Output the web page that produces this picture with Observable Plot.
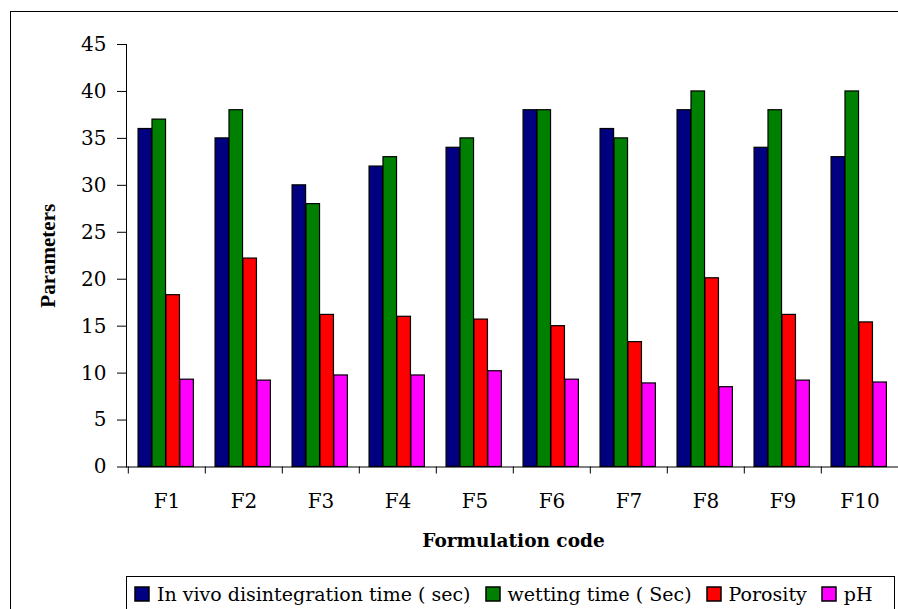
<!DOCTYPE html>
<html>
<head>
<meta charset="utf-8">
<script src="https://cdn.jsdelivr.net/npm/d3@7"></script>
<script src="https://cdn.jsdelivr.net/npm/@observablehq/plot@0.6"></script>
<style>
  html, body { margin: 0; padding: 0; background: #fff; }
  #page { position: relative; width: 898px; height: 609px; overflow: hidden; background: #fff; }
  #outer { position: absolute; left: 10px; top: 11px; width: 1000px; height: 1000px; border: 1.5px solid #000; pointer-events: none; }
  #chart { position: absolute; left: 0; top: 0; }
  #legendbox { position: absolute; left: 126px; top: 576px; width: 769px; height: 60px; border: 1.3px solid #000; background: #fff; box-sizing: border-box; padding: 5px 0 0 8px; }
  .lg-swatches { font-family: "DejaVu Serif", serif !important; font-size: 19px !important; margin: 0 !important; color: #000; }
  .lg-swatches-wrap { min-height: 0 !important; line-height: 24px; }
  .lg-swatch { margin-right: 15px !important; }
  .lg-swatch > svg { margin-right: 8px !important; overflow: visible; }
  .lg-swatch svg rect { stroke: #000; stroke-width: 1.5px; }
</style>
</head>
<body>
<div id="page">
  <div id="chart"></div>
  <div id="outer"></div>
  <div id="legendbox"></div>
</div>
<script>
const codes = ["F1", "F2", "F3", "F4", "F5", "F6", "F7", "F8", "F9", "F10"];
const series = ["In vivo disintegration time ( sec)", "wetting time ( Sec)", "Porosity", "pH"];
const disintegration = [36, 35, 30, 32, 34, 38, 36, 38, 34, 33];
const wetting = [37, 38, 28, 33, 35, 38, 35, 40, 38, 40];
const porosity = [18.3, 22.2, 16.2, 16.0, 15.7, 15.0, 13.3, 20.1, 16.2, 15.4];
const pH = [9.3, 9.2, 9.75, 9.75, 10.2, 9.3, 8.9, 8.5, 9.2, 9.0];
const colors = ["#000080", "#008000", "#FF0000", "#FF00FF"];
const yTicks = [0, 5, 10, 15, 20, 25, 30, 35, 40, 45];
const xTitle = "Formulation code";
const yTitle = "Parameters";

const seriesValues = [disintegration, wetting, porosity, pH];
const rows = codes.flatMap((c, i) => series.map((s, j) => ({code: c, series: s, value: seriesValues[j][i]})));

const width = 898, height = 572;
const marginLeft = 126, marginRight = -2, marginTop = 44, marginBottom = 105.5;
const step = (width - marginLeft - marginRight) / codes.length;
const groupOffset = 0.13 * step;
const barW = 0.18 * step;

const bars = series.map((s, j) => Plot.barY(rows.filter(r => r.series === s), {
  x: "code", y: "value", fill: "series",
  stroke: "#000", strokeWidth: 1.2,
  insetLeft: groupOffset + j * barW,
  insetRight: step - groupOffset - (j + 1) * barW
}));

const chart = Plot.plot({
  width, height, marginLeft, marginRight, marginTop, marginBottom,
  style: {background: "#fff", overflow: "visible", color: "#000"},
  x: {type: "band", domain: codes, padding: 0, axis: null},
  y: {domain: [0, 45], axis: null},
  color: {domain: series, range: colors},
  marks: [
    ...bars,
    Plot.ruleY([0], {stroke: "#000", strokeWidth: 1}),
    Plot.frame({anchor: "left", stroke: "#000", strokeWidth: 1}),
    Plot.axisY({ticks: yTicks, tickSize: 9, tickPadding: 11, fontSize: 20, fontFamily: "DejaVu Serif", label: null, stroke: "#000", fill: "#000"}),
    Plot.axisX({tickSize: 0, tickPadding: 27, fontSize: 20, fontFamily: "DejaVu Serif", label: null, fill: "#000"}),
    Plot.axisX({tickSize: 7, tickFormat: () => "", dx: -step / 2, label: null, stroke: "#000"}),
    Plot.text([yTitle], {text: d => d, frameAnchor: "left", textAnchor: "middle", lineAnchor: "middle", dx: -78, rotate: -90, fontWeight: "bold", fontSize: 21, fontFamily: "Liberation Serif", fill: "#000"}),
    Plot.text([xTitle], {text: d => d, frameAnchor: "bottom", textAnchor: "middle", lineAnchor: "middle", dy: 74.3, fontWeight: "bold", fontSize: 18.5, fontFamily: "DejaVu Serif", fill: "#000"})
  ]
});
document.getElementById("chart").appendChild(chart);

const legend = Plot.legend({color: {domain: series, range: colors}, legend: "swatches", swatchSize: 14, className: "lg"});
document.getElementById("legendbox").appendChild(legend);
</script>
</body>
</html>
